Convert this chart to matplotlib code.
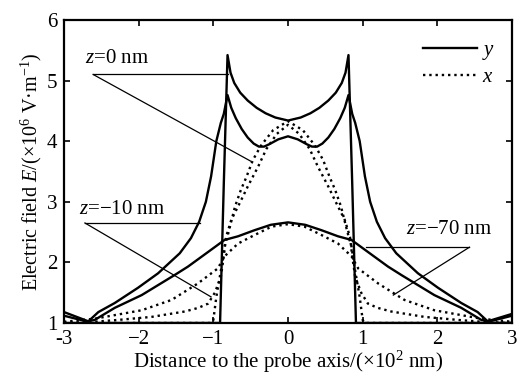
import matplotlib
matplotlib.use('Agg')
import matplotlib.pyplot as plt

# z = 0 nm, y component (solid)
x_z0_y = [-3.0, -0.91, -0.86, -0.81, -0.77, -0.72, -0.64, -0.54, -0.42, -0.30, -0.17, 0.0,
          0.17, 0.30, 0.42, 0.54, 0.64, 0.72, 0.77, 0.81, 0.86, 0.91, 3.0]
e_z0_y = [1.0, 1.0, 3.30, 5.42, 5.13, 4.96, 4.80, 4.67, 4.55, 4.46, 4.39, 4.34,
          4.39, 4.46, 4.55, 4.67, 4.80, 4.96, 5.13, 5.42, 3.30, 1.0, 1.0]

# z = -10 nm, y component (solid)
x_z10_y = [-3.0, -2.68, -2.54, -2.32, -2.01, -1.74, -1.45, -1.30, -1.19, -1.10, -1.03, -0.96,
           -0.90, -0.86, -0.81, -0.76, -0.70, -0.62, -0.54, -0.46, -0.39, -0.32, -0.25, -0.13, 0.0,
           0.13, 0.25, 0.32, 0.39, 0.46, 0.54, 0.62, 0.70, 0.76, 0.81, 0.86, 0.90,
           0.96, 1.03, 1.10, 1.19, 1.30, 1.45, 1.74, 2.01, 2.32, 2.54, 2.68, 3.0]
e_z10_y = [1.12, 1.02, 1.18, 1.33, 1.58, 1.82, 2.15, 2.40, 2.67, 3.00, 3.42, 4.00,
           4.30, 4.45, 4.76, 4.55, 4.38, 4.20, 4.06, 3.96, 3.91, 3.91, 3.95, 4.03, 4.08,
           4.03, 3.95, 3.91, 3.91, 3.96, 4.06, 4.20, 4.38, 4.55, 4.76, 4.45, 4.30,
           4.00, 3.42, 3.00, 2.67, 2.40, 2.15, 1.82, 1.58, 1.33, 1.18, 1.02, 1.12]

# z = -70 nm, y component (solid)
x_z70_y = [-3.0, -2.68, -2.59, -2.32, -1.96, -1.52, -1.34, -1.05, -0.85, -0.67, -0.45, -0.23, 0.0,
           0.23, 0.45, 0.67, 0.85, 1.05, 1.34, 1.52, 1.96, 2.32, 2.59, 2.68, 3.0]
e_z70_y = [1.18, 1.03, 1.05, 1.25, 1.46, 1.79, 1.93, 2.19, 2.37, 2.43, 2.53, 2.62, 2.66,
           2.62, 2.53, 2.43, 2.37, 2.19, 1.93, 1.79, 1.46, 1.25, 1.05, 1.03, 1.15]

# z = 0 nm, x component (dotted)
x_z0_x = [-3.0, -1.03, -1.0, -0.96, -0.89, -0.85, -0.80, -0.71, -0.63, -0.56, -0.47, -0.36, -0.20, 0.0,
          0.20, 0.36, 0.47, 0.56, 0.63, 0.71, 0.80, 0.85, 0.89, 0.96, 1.0, 1.03, 3.0]
e_z0_x = [1.0, 1.0, 1.05, 1.43, 1.93, 2.26, 2.48, 2.92, 3.20, 3.40, 3.69, 3.93, 4.18, 4.33,
          4.18, 3.93, 3.69, 3.40, 3.20, 2.92, 2.48, 2.26, 1.93, 1.43, 1.05, 1.0, 1.0]

# z = -10 nm, x component (dotted)
x_z10_x = [-3.0, -2.6, -2.28, -1.83, -1.38, -1.20, -1.07, -0.98, -0.90, -0.86, -0.83, -0.76, -0.63,
           -0.54, -0.40, -0.29, -0.15, 0.0, 0.15, 0.29, 0.40, 0.54, 0.63, 0.76, 0.83, 0.86, 0.90,
           0.98, 1.07, 1.20, 1.38, 1.83, 2.28, 2.6, 3.0]
e_z10_x = [1.0, 1.02, 1.05, 1.10, 1.19, 1.25, 1.32, 1.50, 1.76, 2.10, 2.42, 2.70, 3.02,
           3.25, 3.58, 3.87, 4.12, 4.27, 4.12, 3.87, 3.58, 3.25, 3.02, 2.70, 2.42, 2.10, 1.76,
           1.50, 1.32, 1.25, 1.19, 1.10, 1.05, 1.02, 1.0]

# z = -70 nm, x component (dotted)
x_z70_x = [-3.0, -2.59, -2.32, -1.96, -1.56, -1.21, -0.94, -0.85, -0.67, -0.45, -0.22, 0.0,
           0.22, 0.45, 0.67, 0.85, 0.94, 1.21, 1.56, 1.96, 2.32, 2.59, 3.0]
e_z70_x = [1.02, 1.07, 1.13, 1.21, 1.38, 1.65, 1.90, 2.10, 2.31, 2.45, 2.59, 2.63,
           2.59, 2.45, 2.31, 2.10, 1.90, 1.65, 1.38, 1.21, 1.13, 1.07, 1.02]

x_ticks = [-3, -2, -1, 0, 1, 2, 3]
x_tick_labels = ['-3', '\u22122', '\u22121', '0', '1', '2', '3']
y_ticks = [1, 2, 3, 4, 5, 6]

plt.rcParams['font.family'] = ['Liberation Serif', 'DejaVu Serif']
plt.rcParams['mathtext.fontset'] = 'custom'
plt.rcParams['mathtext.rm'] = 'Liberation Serif'
plt.rcParams['mathtext.it'] = 'Liberation Serif:italic'

fs = 15

fig = plt.figure(figsize=(5.26, 3.76), dpi=100)
ax = fig.add_axes([0.1217, 0.141, 0.8517, 0.806])

lw = 1.7
ax.plot(x_z0_y, e_z0_y, color='black', linewidth=lw, label='$y$')
ax.plot(x_z10_y, e_z10_y, color='black', linewidth=lw)
ax.plot(x_z70_y, e_z70_y, color='black', linewidth=lw)
ax.plot(x_z0_x, e_z0_x, color='black', linewidth=lw, linestyle=':', label='$x$')
ax.plot(x_z10_x, e_z10_x, color='black', linewidth=lw, linestyle=':')
ax.plot(x_z70_x, e_z70_x, color='black', linewidth=lw, linestyle=':')

# Callout lines and labels
al = 0.9
ax.plot([-2.61, -0.80], [5.10, 5.10], color='black', linewidth=al)
ax.plot([-2.61, -0.50], [5.10, 3.67], color='black', linewidth=al)
ax.text(-2.72, 5.37, '$z$=0 nm', fontsize=fs, va='center', ha='left')

ax.plot([-2.72, -1.18], [2.65, 2.65], color='black', linewidth=al)
ax.plot([-2.72, -1.03], [2.65, 1.43], color='black', linewidth=al)
ax.text(-2.80, 2.87, '$z$=\u221210 nm', fontsize=fs, va='center', ha='left')

ax.plot([2.43, 1.05], [2.25, 2.25], color='black', linewidth=al)
ax.plot([2.43, 1.41], [2.25, 1.46], color='black', linewidth=al)
ax.text(1.58, 2.55, '$z$=\u221270 nm', fontsize=fs, va='center', ha='left')

ax.set_xlim(-3, 3)
ax.set_ylim(1, 6)
ax.set_xticks(x_ticks)
ax.set_xticklabels(x_tick_labels)
ax.set_yticks(y_ticks)
ax.tick_params(direction='in', top=True, right=True, length=4, width=1.2,
               labelsize=fs)
ax.tick_params(axis='x', pad=5)
ax.tick_params(axis='y', pad=5)
for s in ax.spines.values():
    s.set_linewidth(1.6)

ax.set_xlabel('Distance to the probe axis/(\u00d710$^2$ nm)', fontsize=fs, labelpad=0)
ax.set_ylabel('Electric field $E$/(\u00d710$^6$ V\u00b7m$^{-1}$)', fontsize=14.5, labelpad=2)

ax.legend(loc='upper right', bbox_to_anchor=(0.995, 0.98), frameon=False, fontsize=fs,
          handlelength=2.6, handletextpad=0.25, labelspacing=0.25, borderaxespad=0.3)

plt.savefig('out.png', dpi=100)
